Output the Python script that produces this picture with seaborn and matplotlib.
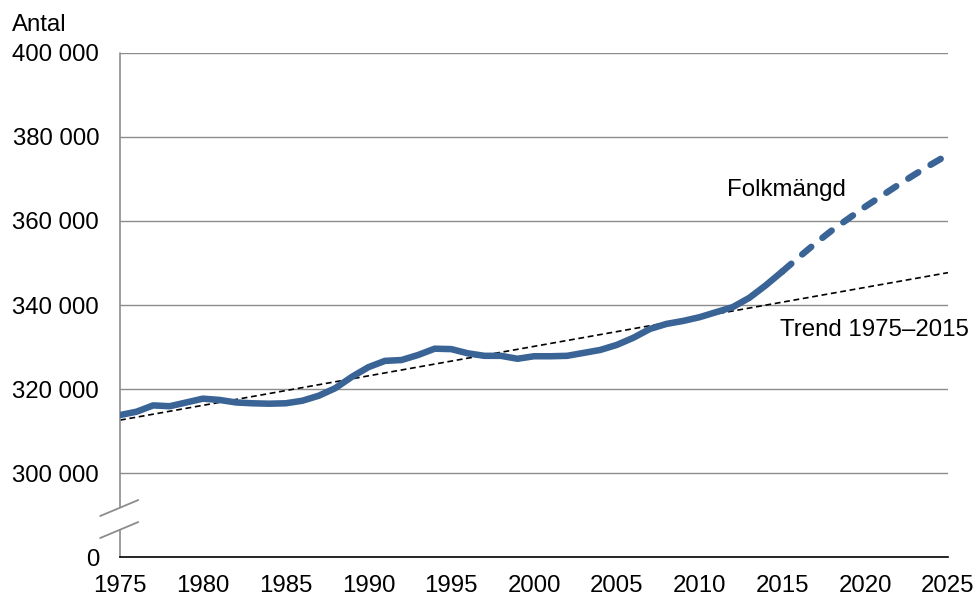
import numpy as np
import pandas as pd
import seaborn as sns
import matplotlib.pyplot as plt

# folkmängd per år (avläst), prognos från 2015
ar_hist = list(range(1975, 2016))
folk_hist = [313800, 314600, 316100, 315900, 316800, 317700, 317400, 316800, 316600, 316500,
             316600, 317200, 318400, 320200, 322900, 325200, 326700, 326900, 328100, 329600,
             329500, 328500, 327900, 327900, 327200, 327800, 327800, 327900, 328600, 329300,
             330500, 332200, 334300, 335500, 336200, 337100, 338300, 339500, 341700, 344700,
             348000]
ar_prog = list(range(2015, 2026))
folk_prog = [348000, 351400, 354700, 357800, 360600, 363400, 366000, 368600, 371100, 373500, 375800]
ar_trend = [1975, 2025]
trend = [312600, 347700]

y_ticks = [280000, 300000, 320000, 340000, 360000, 380000, 400000]
y_labels = ["0", "300 000", "320 000", "340 000", "360 000", "380 000", "400 000"]
x_ticks = list(range(1975, 2030, 5))

sns.set_style("white")
plt.rcParams["font.family"] = ["Liberation Sans", "DejaVu Sans"]
plt.rcParams["font.size"] = 17.3
plt.rcParams["text.color"] = "black"
plt.rcParams["xtick.labelcolor"] = "black"
plt.rcParams["ytick.labelcolor"] = "black"

fig, ax = plt.subplots(figsize=(9.76, 5.96), dpi=100)
fig.subplots_adjust(left=0.123, right=0.9713, top=0.9111, bottom=0.0654)

bla = "#3a6496"
gra = "#8c8c8c"

for y in y_ticks[1:]:
    ax.axhline(y, color=gra, lw=1, zorder=0)

sns.lineplot(x=ar_trend, y=trend, ax=ax, color="black", lw=1.2,
             dashes=False, linestyle=(0, (3.5, 2.2)), zorder=2)
sns.lineplot(x=ar_hist, y=folk_hist, ax=ax, color=bla, lw=4.7,
             solid_capstyle="round", solid_joinstyle="round", zorder=3)
l = sns.lineplot(x=ar_prog, y=folk_prog, ax=ax, color=bla, lw=4.7, zorder=3)
l.lines[-1].set_dashes((1.8, 2.2))
l.lines[-1].set_dash_capstyle("round")

ax.set_xlim(1975, 2025)
ax.set_ylim(280000, 400000)
ax.set_xticks(x_ticks)
ax.set_yticks(y_ticks)
ax.set_yticklabels(y_labels)
ax.tick_params(axis="both", direction="out", length=5, width=1, labelsize=17.3)
ax.tick_params(axis="y", color="#555555", pad=10)
ax.tick_params(axis="x", color="#555555", pad=8)

for s in ["top", "right", "left"]:
    ax.spines[s].set_visible(False)
ax.spines["bottom"].set_color("black")
ax.spines["bottom"].set_linewidth(1.2)

# y-axel med brytning
ax.plot([1975, 1975], [280000, 286500], color=gra, lw=1.2, clip_on=False)
ax.plot([1975, 1975], [291800, 400000], color=gra, lw=1.2, clip_on=False)
ax.plot([1973.8, 1976.1], [289760, 293570], color=gra, lw=1.3, clip_on=False)
ax.plot([1973.8, 1976.1], [284520, 288330], color=gra, lw=1.3, clip_on=False)

ax.text(2011.65, 367400, "Folkmängd", fontsize=17.3, va="center", ha="left")
ax.text(2014.86, 334050, "Trend 1975–2015", fontsize=17.3, va="center", ha="left")
fig.text(12 / 976, 1 - 25 / 596, "Antal", fontsize=17.3, va="center", ha="left")

ax.set_xlabel("")
ax.set_ylabel("")
fig.savefig("out.png", dpi=100)
